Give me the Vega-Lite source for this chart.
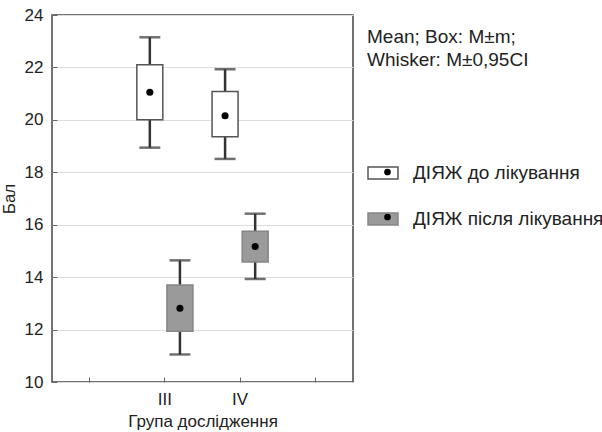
{
  "$schema": "https://vega.github.io/schema/vega-lite/v6.json",
  "width": 301,
  "height": 367,
  "autosize": {"type": "none"},
  "padding": {"left": 52, "top": 15, "right": 249, "bottom": 50},
  "background": "white",
  "config": {
    "font": "Liberation Sans",
    "view": {"stroke": "#444", "strokeWidth": 1.5},
    "axis": {
      "labelFont": "Liberation Sans",
      "titleFont": "Liberation Sans",
      "labelFontSize": 17,
      "titleFontSize": 17,
      "titleFontWeight": "normal",
      "labelColor": "#222",
      "titleColor": "#222",
      "domain": false,
      "tickColor": "#666"
    },
    "legend": {
      "labelFont": "Liberation Sans",
      "titleFont": "Liberation Sans",
      "labelFontSize": 19,
      "titleFontSize": 19,
      "titleFontWeight": "normal",
      "labelColor": "#222",
      "titleColor": "#222",
      "padding": 0
    }
  },
  "data": {
    "values": [
      {"group": "III", "series": "ДІЯЖ до лікування", "mean": 21.05, "box_lo": 20.0, "box_hi": 22.1, "ci_lo": 18.94, "ci_hi": 23.15},
      {"group": "IV", "series": "ДІЯЖ до лікування", "mean": 20.16, "box_lo": 19.36, "box_hi": 21.08, "ci_lo": 18.51, "ci_hi": 21.93},
      {"group": "III", "series": "ДІЯЖ після лікування", "mean": 12.81, "box_lo": 11.94, "box_hi": 13.7, "ci_lo": 11.05, "ci_hi": 14.64},
      {"group": "IV", "series": "ДІЯЖ після лікування", "mean": 15.17, "box_lo": 14.58, "box_hi": 15.75, "ci_lo": 13.93, "ci_hi": 16.42}
    ]
  },
  "encoding": {
    "x": {
      "field": "group",
      "type": "nominal",
      "scale": {"domain": ["II", "III", "IV", "V"], "paddingInner": 0, "paddingOuter": 0},
      "axis": {
        "title": "Група дослідження",
        "labelAngle": 0,
        "labelExpr": "datum.value == 'III' || datum.value == 'IV' ? datum.value : ''",
        "tickSize": -5,
        "labelPadding": 14,
        "titlePadding": 6
      }
    },
    "xOffset": {"field": "series", "type": "nominal", "scale": {"paddingOuter": 0.25, "paddingInner": 0}}
  },
  "layer": [
    {
      "mark": {"type": "rule", "color": "#333", "strokeWidth": 2.5},
      "encoding": {
        "y": {
          "field": "ci_lo",
          "type": "quantitative",
          "scale": {"domain": [10, 24], "nice": false, "zero": false},
          "axis": {
            "title": "Бал",
            "values": [10, 12, 14, 16, 18, 20, 22, 24],
            "grid": true,
            "gridColor": "#dcdcdc",
            "tickSize": -5,
            "labelPadding": 14,
            "titlePadding": 6
          }
        },
        "y2": {"field": "ci_hi"}
      }
    },
    {
      "mark": {"type": "tick", "orient": "horizontal", "size": 21, "thickness": 2.5, "color": "#333"},
      "encoding": {"y": {"field": "ci_hi", "type": "quantitative"}}
    },
    {
      "mark": {"type": "tick", "orient": "horizontal", "size": 21, "thickness": 2.5, "color": "#333"},
      "encoding": {"y": {"field": "ci_lo", "type": "quantitative"}}
    },
    {
      "mark": {"type": "bar", "width": 26, "strokeWidth": 1.5},
      "encoding": {
        "y": {"field": "box_lo", "type": "quantitative"},
        "y2": {"field": "box_hi"},
        "fill": {
          "field": "series",
          "type": "nominal",
          "scale": {"range": ["#ffffff", "#9a9a9a"]},
          "legend": {
            "orient": "none",
            "legendX": 315,
            "legendY": 13,
            "title": ["Mean; Box: M±m;", "Whisker: M±0,95CI"],
            "titleLineHeight": 23,
            "titlePadding": 87,
            "labelOffset": 14,
            "labelLimit": 300,
            "symbolType": "M-1,-0.4L1,-0.4L1,0.4L-1,0.4Z",
            "symbolSize": 900,
            "symbolStrokeColor": "#666",
            "symbolStrokeWidth": 1.5,
            "rowPadding": 20
          }
        },
        "stroke": {
          "field": "series",
          "type": "nominal",
          "scale": {"range": ["#555555", "#858585"]},
          "legend": null
        }
      }
    },
    {
      "mark": {"type": "point", "filled": true, "color": "black", "size": 50, "opacity": 1},
      "encoding": {
        "y": {"field": "mean", "type": "quantitative"},
        "shape": {
          "field": "series",
          "type": "nominal",
          "scale": {"domain": ["ДІЯЖ до лікування", "ДІЯЖ після лікування"], "range": ["circle", "circle"]},
          "legend": {
            "orient": "none",
            "legendX": 326,
            "legendY": 147.5,
            "title": null,
            "symbolSize": 45,
            "symbolFillColor": "black",
            "symbolStrokeWidth": 0,
            "labelColor": "rgba(0,0,0,0)",
            "rowPadding": 25
          }
        }
      }
    }
  ]
}
